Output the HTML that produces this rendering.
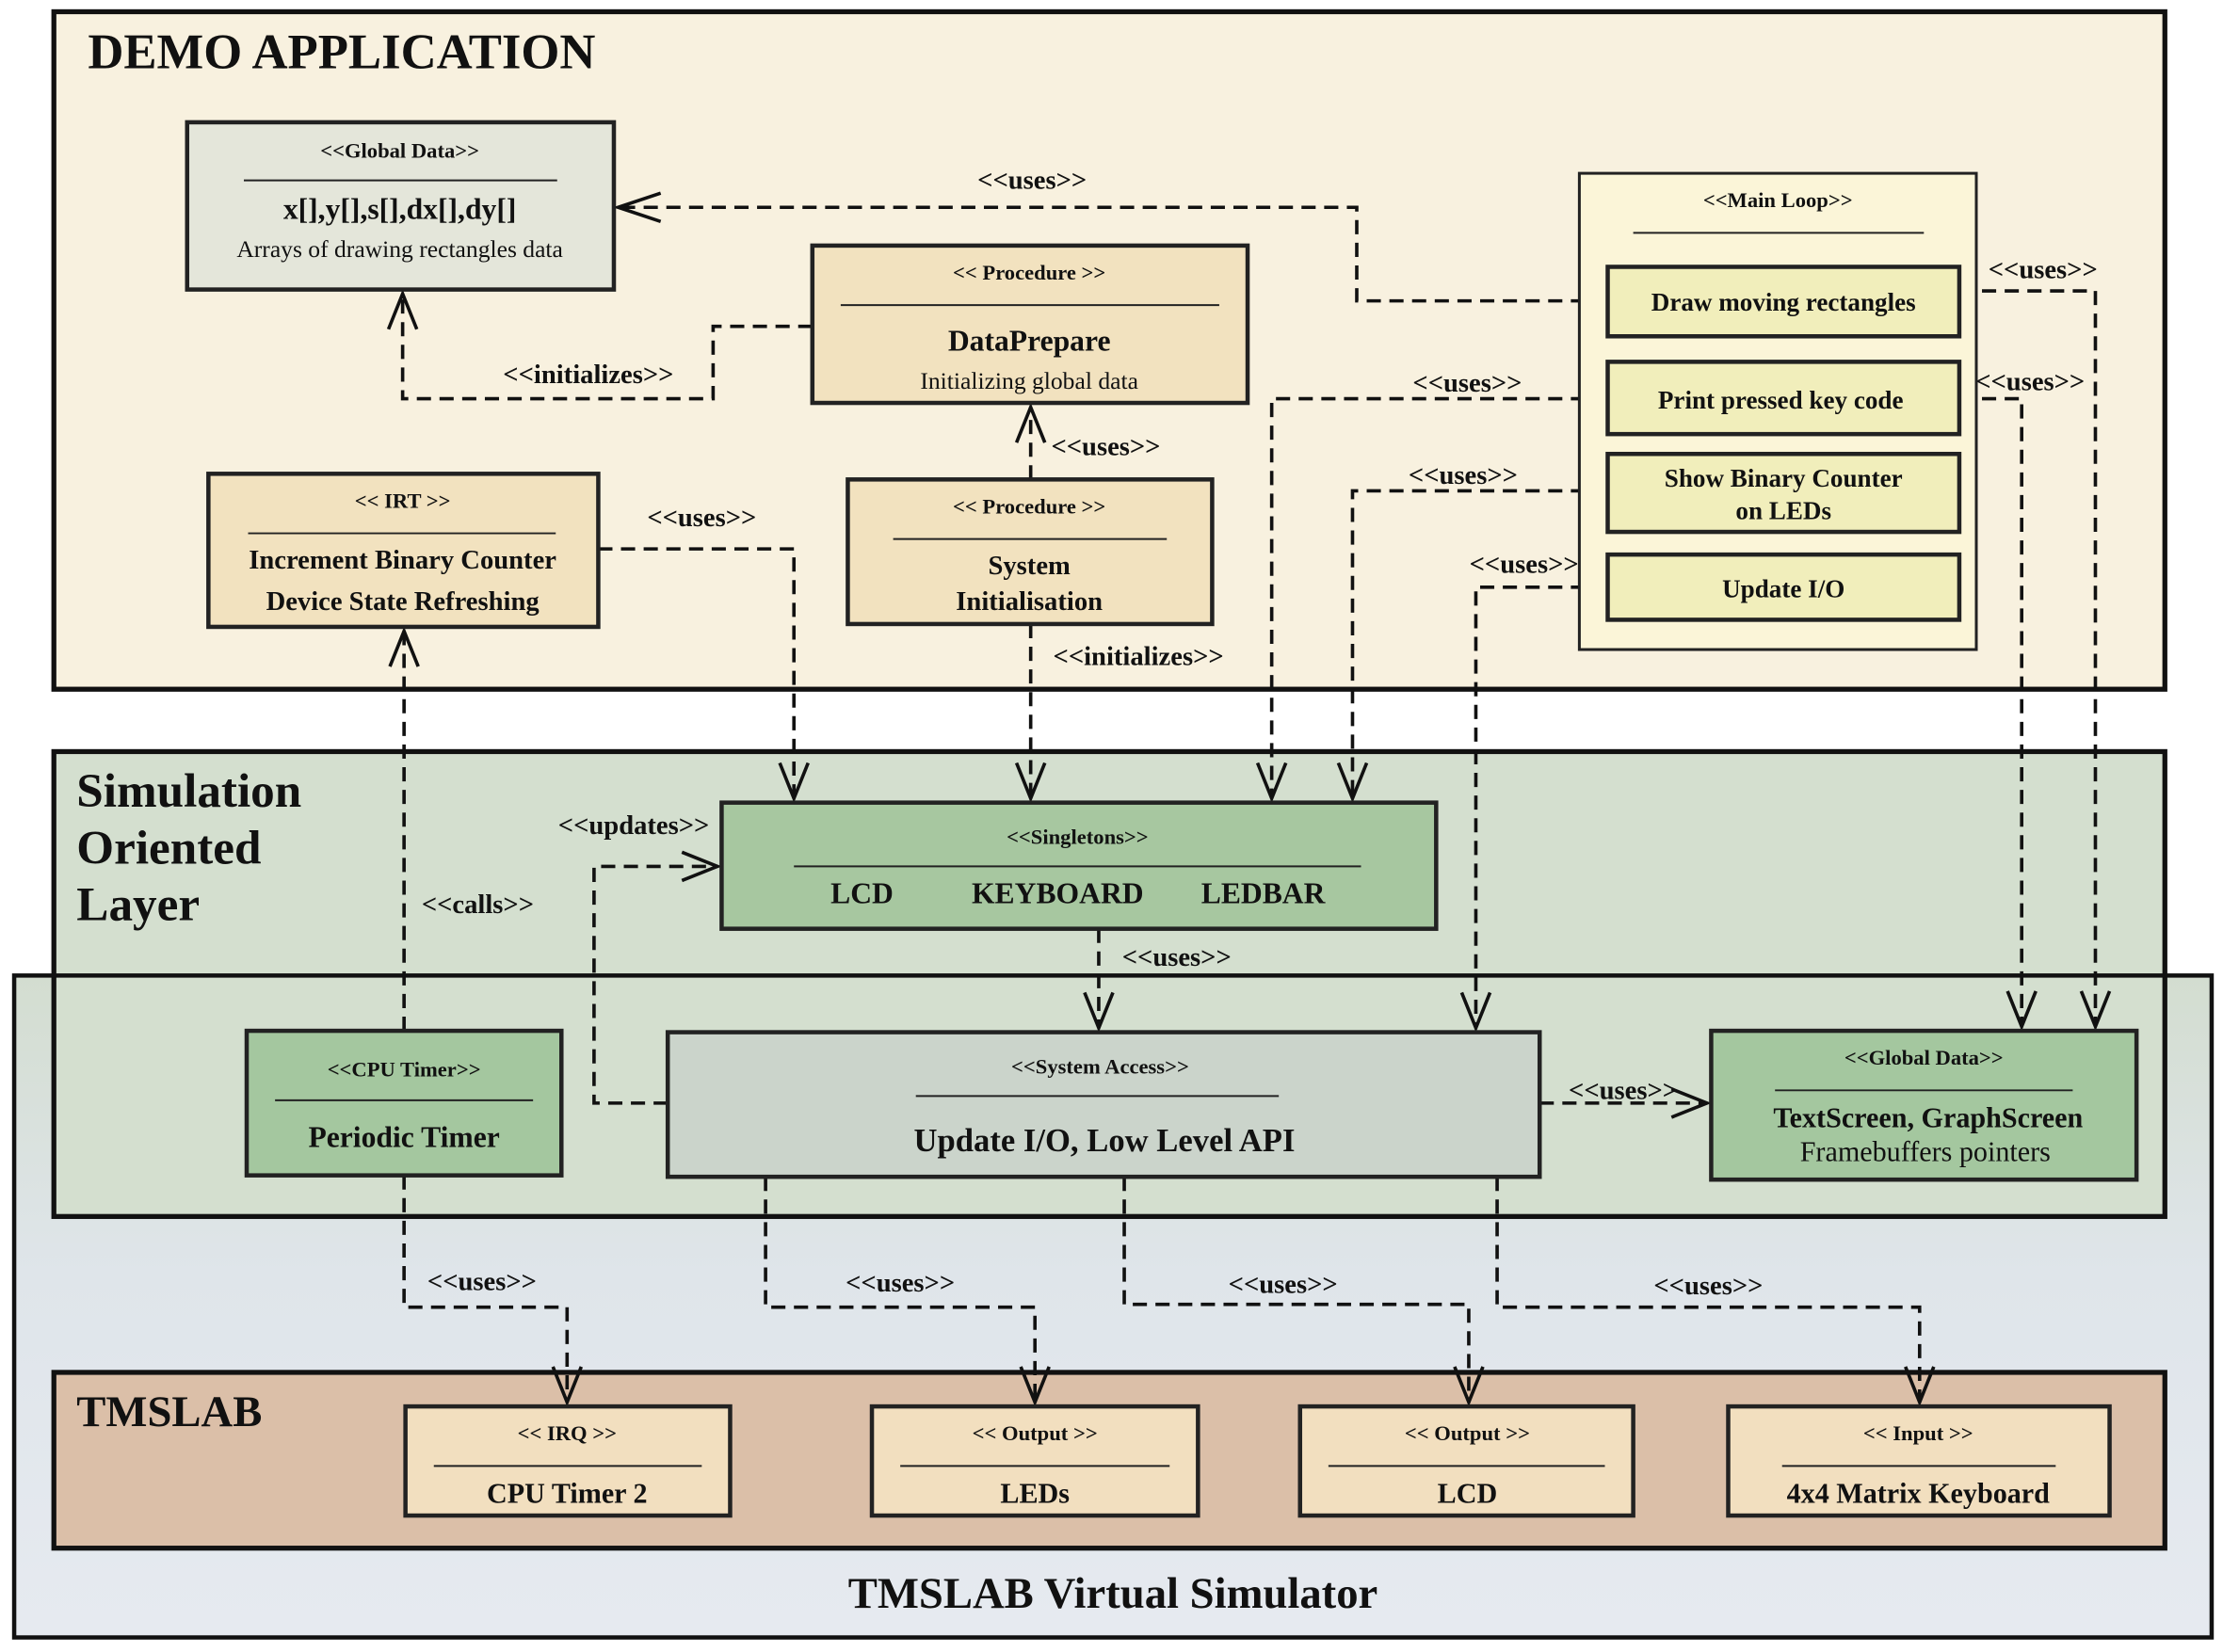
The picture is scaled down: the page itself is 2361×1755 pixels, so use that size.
<!DOCTYPE html>
<html><head><meta charset="utf-8">
<style>
html,body{margin:0;padding:0;background:#fff;}
svg{display:block;}
text{font-family:"Liberation Serif",serif;fill:#111;}
.b{font-weight:bold;}
.st{font-size:15px;font-weight:bold;}
.lbl{font-size:19px;font-weight:bold;}
.dash{fill:none;stroke:#111;stroke-width:2.4;stroke-dasharray:10,6;}
.arr{fill:none;stroke:#111;stroke-width:2.4;}
.node{stroke:#222;stroke-width:3;}
.sep{stroke:#222;stroke-width:1.3;}
</style></head><body>
<svg width="2361" height="1755" viewBox="0 0 1568 1165" xmlns="http://www.w3.org/2000/svg">
<defs>
<linearGradient id="g1" x1="0" y1="0" x2="0" y2="1">
<stop offset="0" stop-color="#d3ddd0"/><stop offset="0.45" stop-color="#dfe5ea"/><stop offset="1" stop-color="#e6eaf0"/>
</linearGradient>
</defs>
<rect width="1568" height="1165" fill="#fff"/>
<rect x="10" y="688" width="1550" height="467" fill="url(#g1)"/>
<rect x="38" y="8" width="1489" height="478" fill="#f8f1df" stroke="#111" stroke-width="3.5"/>
<text x="62" y="48" class="b" font-size="35">DEMO APPLICATION</text>
<rect x="38" y="530" width="1489" height="328" fill="#d4dfcf" stroke="#111" stroke-width="3.5"/>
<rect x="10" y="688" width="1550" height="467" fill="none" stroke="#111" stroke-width="3"/>
<text x="54" y="569" class="b" font-size="34">Simulation</text>
<text x="54" y="609" class="b" font-size="34">Oriented</text>
<text x="54" y="649" class="b" font-size="34">Layer</text>
<rect x="38" y="968" width="1489" height="124" fill="#dbbfa8" stroke="#111" stroke-width="3.5"/>
<text x="54" y="1006" class="b" font-size="31">TMSLAB</text>
<text x="785" y="1134" class="b" font-size="31" text-anchor="middle">TMSLAB Virtual Simulator</text>

<g class="dash">
<polyline points="1134,212 957,212 957,146 436,146"/>
<polyline points="573,230 503,230 503,281 284,281 284,207"/>
<polyline points="727,338 727,287"/>
<polyline points="422,387 560,387 560,563"/>
<polyline points="727,440 727,563"/>
<polyline points="1134,281 897,281 897,563"/>
<polyline points="1134,346 954,346 954,563"/>
<polyline points="1134,414 1041,414 1041,725"/>
<polyline points="1382,205 1478,205 1478,724"/>
<polyline points="1382,281 1426,281 1426,724"/>
<polyline points="285,727 285,445"/>
<polyline points="471,778 419,778 419,611 506,611"/>
<polyline points="775,655 775,725"/>
<polyline points="1086,778 1204,778"/>
<polyline points="285,829 285,922 400,922 400,989"/>
<polyline points="540,830 540,922 730,922 730,989"/>
<polyline points="793,830 793,920 1036,920 1036,989"/>
<polyline points="1056,830 1056,922 1354,922 1354,989"/>
</g>
<g class="arr">
<polyline points="466,136 436,146 466,156"/>
<polyline points="274,232 284,207 294,232"/>
<polyline points="717,312 727,287 737,312"/>
<polyline points="550,538 560,563 570,538"/>
<polyline points="717,538 727,563 737,538"/>
<polyline points="887,538 897,563 907,538"/>
<polyline points="944,538 954,563 964,538"/>
<polyline points="1031,700 1041,725 1051,700"/>
<polyline points="1468,699 1478,724 1488,699"/>
<polyline points="1416,699 1426,724 1436,699"/>
<polyline points="275,470 285,445 295,470"/>
<polyline points="481,601 506,611 481,621"/>
<polyline points="765,700 775,725 785,700"/>
<polyline points="1179,768 1204,778 1179,788"/>
<polyline points="390,964 400,989 410,964"/>
<polyline points="720,964 730,989 740,964"/>
<polyline points="1026,964 1036,989 1046,964"/>
<polyline points="1344,964 1354,989 1364,964"/>
</g>
<g class="lbl" text-anchor="middle">
<text x="728" y="133">&lt;&lt;uses&gt;&gt;</text>
<text x="415" y="270">&lt;&lt;initializes&gt;&gt;</text>
<text x="780" y="321">&lt;&lt;uses&gt;&gt;</text>
<text x="495" y="371">&lt;&lt;uses&gt;&gt;</text>
<text x="803" y="469">&lt;&lt;initializes&gt;&gt;</text>
<text x="1035" y="276">&lt;&lt;uses&gt;&gt;</text>
<text x="1032" y="341">&lt;&lt;uses&gt;&gt;</text>
<text x="1075" y="404">&lt;&lt;uses&gt;&gt;</text>
<text x="1441" y="196">&lt;&lt;uses&gt;&gt;</text>
<text x="1432" y="275">&lt;&lt;uses&gt;&gt;</text>
<text x="337" y="644">&lt;&lt;calls&gt;&gt;</text>
<text x="447" y="588">&lt;&lt;updates&gt;&gt;</text>
<text x="830" y="681">&lt;&lt;uses&gt;&gt;</text>
<text x="1145" y="775">&lt;&lt;uses&gt;&gt;</text>
<text x="340" y="910">&lt;&lt;uses&gt;&gt;</text>
<text x="635" y="911">&lt;&lt;uses&gt;&gt;</text>
<text x="905" y="912">&lt;&lt;uses&gt;&gt;</text>
<text x="1205" y="913">&lt;&lt;uses&gt;&gt;</text>
</g>

<rect x="132" y="86" width="301" height="118" fill="#e4e6da" class="node"/>
<text x="282" y="111" class="st" text-anchor="middle">&lt;&lt;Global Data&gt;&gt;</text>
<line x1="172" y1="127" x2="393" y2="127" class="sep"/>
<text x="282" y="154" class="b" font-size="21" text-anchor="middle">x[],y[],s[],dx[],dy[]</text>
<text x="282" y="181" font-size="17" text-anchor="middle">Arrays of drawing rectangles data</text>

<rect x="573" y="173" width="307" height="111" fill="#f2e2bf" class="node"/>
<text x="726" y="197" class="st" text-anchor="middle">&lt;&lt; Procedure &gt;&gt;</text>
<line x1="593" y1="215" x2="860" y2="215" class="sep"/>
<text x="726" y="247" class="b" font-size="21" text-anchor="middle">DataPrepare</text>
<text x="726" y="274" font-size="17" text-anchor="middle">Initializing global data</text>

<rect x="147" y="334" width="275" height="108" fill="#f2e2bf" class="node"/>
<text x="284" y="358" class="st" text-anchor="middle">&lt;&lt; IRT &gt;&gt;</text>
<line x1="175" y1="376" x2="392" y2="376" class="sep"/>
<text x="284" y="401" class="b" font-size="19" text-anchor="middle">Increment Binary Counter</text>
<text x="284" y="430" class="b" font-size="19" text-anchor="middle">Device State Refreshing</text>

<rect x="598" y="338" width="257" height="102" fill="#f2e2bf" class="node"/>
<text x="726" y="362" class="st" text-anchor="middle">&lt;&lt; Procedure &gt;&gt;</text>
<line x1="630" y1="380" x2="823" y2="380" class="sep"/>
<text x="726" y="405" class="b" font-size="19" text-anchor="middle">System</text>
<text x="726" y="430" class="b" font-size="19" text-anchor="middle">Initialisation</text>

<rect x="1114" y="122" width="280" height="336" fill="#fbf5d8" stroke="#222" stroke-width="2"/>
<text x="1254" y="146" class="st" text-anchor="middle">&lt;&lt;Main Loop&gt;&gt;</text>
<line x1="1152" y1="164" x2="1357" y2="164" class="sep"/>
<g fill="#f1eebb" class="node">
<rect x="1134" y="188" width="248" height="49"/>
<rect x="1134" y="255" width="248" height="51"/>
<rect x="1134" y="320" width="248" height="55"/>
<rect x="1134" y="391" width="248" height="46"/>
</g>
<g class="b" font-size="18" text-anchor="middle">
<text x="1258" y="219">Draw moving rectangles</text>
<text x="1256" y="288">Print pressed key code</text>
<text x="1258" y="343">Show Binary Counter</text>
<text x="1258" y="366">on LEDs</text>
<text x="1258" y="421">Update I/O</text>
</g>

<rect x="509" y="566" width="504" height="89" fill="#a7c7a0" class="node"/>
<text x="760" y="595" class="st" text-anchor="middle">&lt;&lt;Singletons&gt;&gt;</text>
<line x1="560" y1="611" x2="960" y2="611" class="sep"/>
<g class="b" font-size="21" text-anchor="middle">
<text x="608" y="637">LCD</text><text x="746" y="637">KEYBOARD</text><text x="891" y="637">LEDBAR</text>
</g>

<rect x="174" y="727" width="222" height="102" fill="#a4c79f" class="node"/>
<text x="285" y="759" class="st" text-anchor="middle">&lt;&lt;CPU Timer&gt;&gt;</text>
<line x1="194" y1="776" x2="376" y2="776" class="sep"/>
<text x="285" y="809" class="b" font-size="21" text-anchor="middle">Periodic Timer</text>

<rect x="471" y="728" width="615" height="102" fill="#cbd4cb" class="node"/>
<text x="776" y="757" class="st" text-anchor="middle">&lt;&lt;System Access&gt;&gt;</text>
<line x1="646" y1="773" x2="902" y2="773" class="sep"/>
<text x="779" y="812" class="b" font-size="23" text-anchor="middle">Update I/O, Low Level API</text>

<rect x="1207" y="727" width="300" height="105" fill="#a4c79f" class="node"/>
<text x="1357" y="751" class="st" text-anchor="middle">&lt;&lt;Global Data&gt;&gt;</text>
<line x1="1252" y1="769" x2="1462" y2="769" class="sep"/>
<text x="1360" y="795" class="b" font-size="20" text-anchor="middle">TextScreen, GraphScreen</text>
<text x="1358" y="819" font-size="20" text-anchor="middle">Framebuffers pointers</text>

<g fill="#f2dfbf" class="node">
<rect x="286" y="992" width="229" height="77"/>
<rect x="615" y="992" width="230" height="77"/>
<rect x="917" y="992" width="235" height="77"/>
<rect x="1219" y="992" width="269" height="77"/>
</g>
<g class="sep">
<line x1="306" y1="1034" x2="495" y2="1034"/>
<line x1="635" y1="1034" x2="825" y2="1034"/>
<line x1="937" y1="1034" x2="1132" y2="1034"/>
<line x1="1257" y1="1034" x2="1450" y2="1034"/>
</g>
<g class="st" text-anchor="middle">
<text x="400" y="1016">&lt;&lt; IRQ &gt;&gt;</text>
<text x="730" y="1016">&lt;&lt; Output &gt;&gt;</text>
<text x="1035" y="1016">&lt;&lt; Output &gt;&gt;</text>
<text x="1353" y="1016">&lt;&lt; Input &gt;&gt;</text>
</g>
<g class="b" font-size="20" text-anchor="middle">
<text x="400" y="1060">CPU Timer 2</text>
<text x="730" y="1060">LEDs</text>
<text x="1035" y="1060">LCD</text>
<text x="1353" y="1060">4x4 Matrix Keyboard</text>
</g>
</svg>
</body></html>
